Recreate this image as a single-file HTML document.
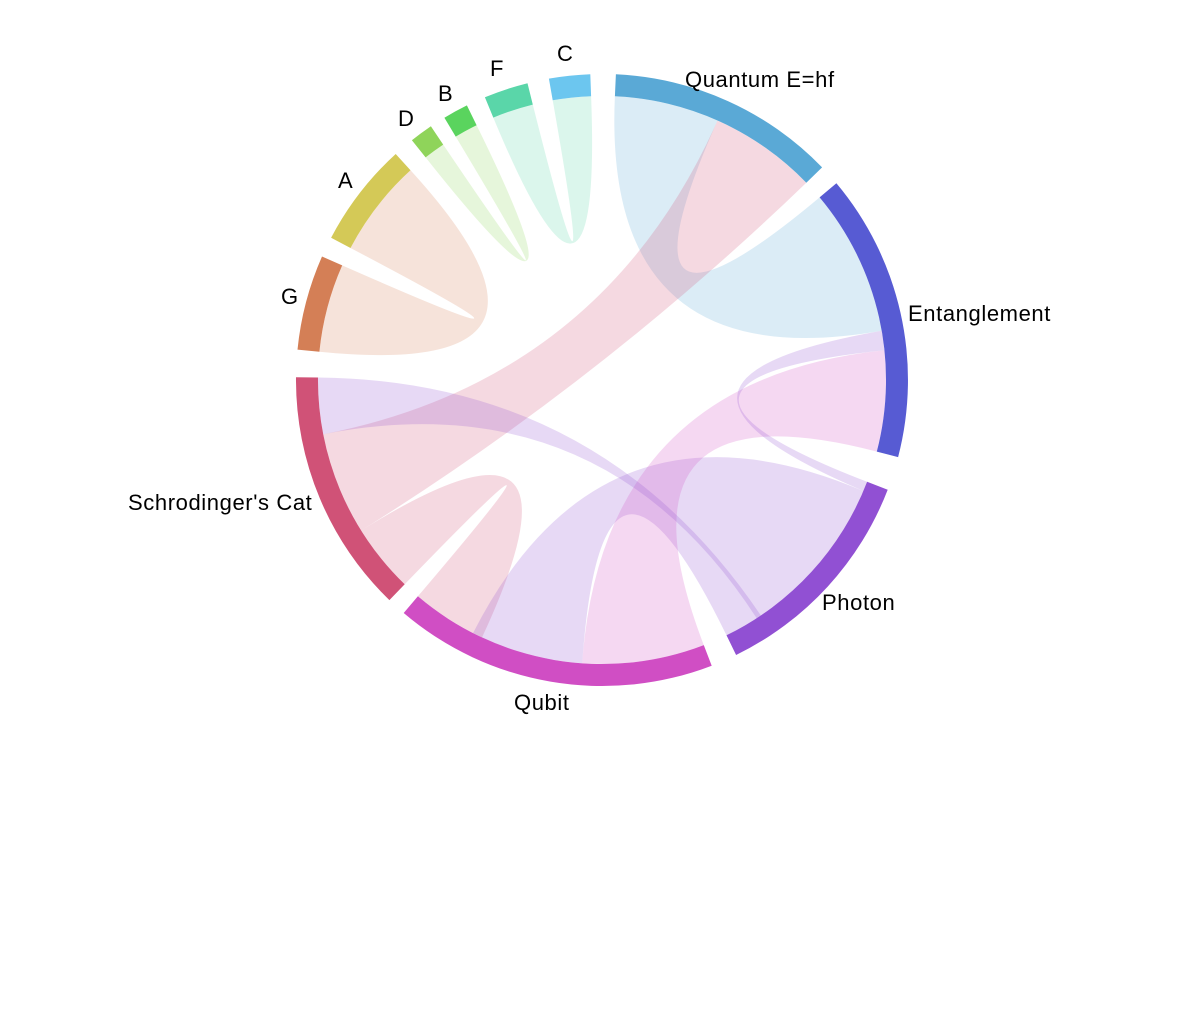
<!DOCTYPE html>
<html><head><meta charset="utf-8"><style>
html,body{margin:0;padding:0;background:#fff;width:1198px;height:1012px;overflow:hidden}
text{font-family:"Liberation Sans",sans-serif;font-size:22px;letter-spacing:0.6px;fill:#000}
</style></head><body>
<svg id="s" width="1198" height="1012" xmlns="http://www.w3.org/2000/svg"></svg>
<script>
var cx=602,cy=380,ri=284,ro=306;
function P(a,r){a=a*Math.PI/180;return [cx+r*Math.sin(a),cy-r*Math.cos(a)];}
function arc(a0,a1,r){var p=P(a1,r);var large=Math.abs(a1-a0)>180?1:0;var sw=a1>a0?1:0;return "A"+r+","+r+" 0 "+large+" "+sw+" "+p[0].toFixed(1)+","+p[1].toFixed(1);}
var svg=document.getElementById('s'),h='';
var groups=[
[2.6,46,'#5aa9d6'],[50,104.6,'#575bd3'],[111,154,'#9150d3'],[159,220.4,'#d04ec4'],
[224,270.5,'#d05277'],[275.7,293.8,'#d47f56'],[297.7,317.6,'#d4c957'],[321.6,326,'#8fd45a'],
[329,333.8,'#5ad45e'],[337.5,345.9,'#5ad6a9'],[350,357.8,'#6cc6ef']];
var ribbons=[
[2.6,24,50,80,'#5aa9d6'],
[24,46,238,259,'#d05277'],
[224,238,205,220.4,'#d05277'],
[184,207,113,154,'#9150d3'],
[159,184,84,104.6,'#d04ec4'],
[80,84,111,113,'#9150d3'],
[259,270.5,146,147,'#9150d3'],
[275.7,293.8,297.7,317.6,'#d47f56'],
[321.6,326,329,333.8,'#8fd45a'],
[337.5,345.9,350,357.8,'#5ad6a9']];
ribbons.forEach(function(r){
 var s0=P(r[0],ri),t0=P(r[2],ri);
 var d="M"+s0[0].toFixed(1)+","+s0[1].toFixed(1)+arc(r[0],r[1],ri)+"Q"+cx+","+cy+" "+t0[0].toFixed(1)+","+t0[1].toFixed(1)+arc(r[2],r[3],ri)+"Q"+cx+","+cy+" "+s0[0].toFixed(1)+","+s0[1].toFixed(1)+"Z";
 h+='<path d="'+d+'" fill="'+r[4]+'" fill-opacity="0.22"/>';
});
groups.forEach(function(g){
 var a=P(g[0],ro),b=P(g[1],ri);
 var d="M"+a[0].toFixed(1)+","+a[1].toFixed(1)+arc(g[0],g[1],ro)+"L"+b[0].toFixed(1)+","+b[1].toFixed(1)+arc(g[1],g[0],ri)+"Z";
 h+='<path d="'+d+'" fill="'+g[2]+'"/>';
});
svg.innerHTML=h+
'<text x="685" y="87">Quantum E=hf</text>'+
'<text x="908" y="321">Entanglement</text>'+
'<text x="822" y="610">Photon</text>'+
'<text x="514" y="710">Qubit</text>'+
'<text x="128" y="510">Schrodinger\'s Cat</text>'+
'<text x="281" y="304">G</text>'+
'<text x="338" y="188">A</text>'+
'<text x="398" y="126">D</text>'+
'<text x="438" y="101">B</text>'+
'<text x="490" y="76">F</text>'+
'<text x="557" y="61">C</text>';
</script>
</body></html>
